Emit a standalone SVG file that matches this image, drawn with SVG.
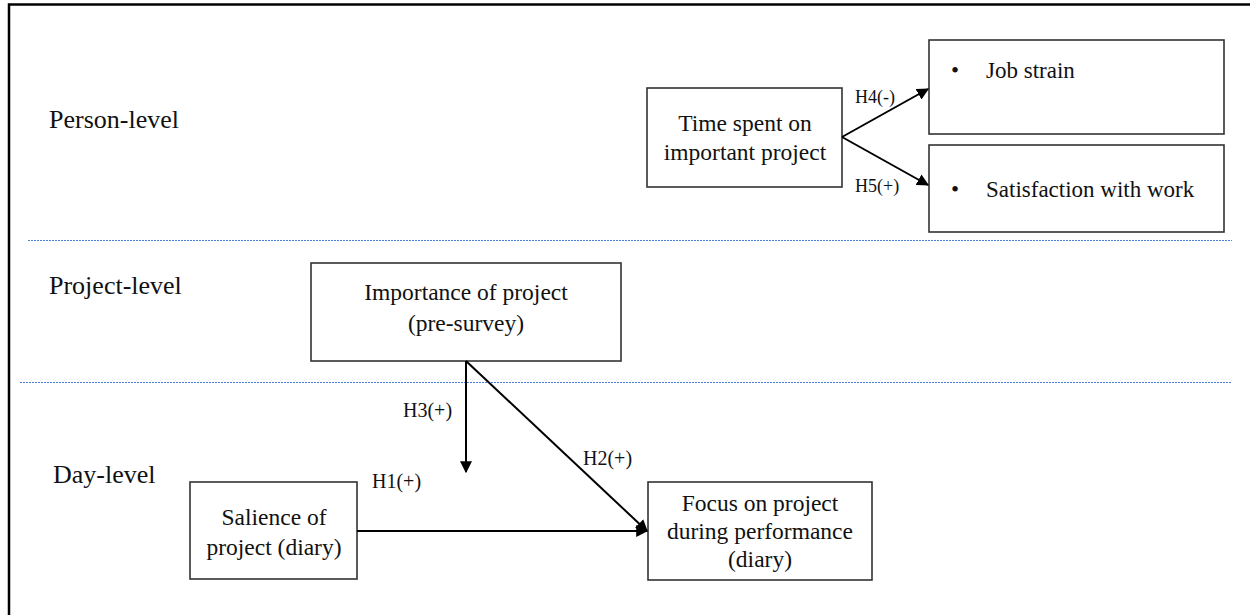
<svg xmlns="http://www.w3.org/2000/svg" width="1257" height="615" viewBox="0 0 1257 615">
<style>
text{font-family:"Liberation Serif","Times New Roman",serif;fill:#111}
.lvl{font-size:26px}
.bx{font-size:23.5px;text-anchor:middle}
.li{font-size:23px}
.hl{font-size:20px}
.hs{font-size:18px}
.box{fill:#fff;stroke:#333;stroke-width:1.6}
.dot{stroke:#4a7fd6;stroke-width:1;stroke-dasharray:2 1}
.con{stroke:#000;stroke-width:2;fill:none}
</style>
<defs>
<marker id="ah" viewBox="0 0 10 10" refX="9" refY="5" markerWidth="6" markerHeight="6" markerUnits="strokeWidth" orient="auto">
<path d="M0,0 L10,5 L0,10 z" fill="#000"/>
</marker>
</defs>
<rect width="1257" height="615" fill="#fff"/>
<g id="frame">
<path d="M9,615 V4.5 H1250" fill="none" stroke="#000" stroke-width="2.5"/>
</g>
<g id="separators">
<line class="dot" x1="28" y1="240.5" x2="1232" y2="240.5"/>
<line class="dot" x1="20" y1="382.5" x2="1232" y2="382.5"/>
</g>
<g id="levels">
<text class="lvl" x="49" y="128">Person-level</text>
<text class="lvl" x="49" y="294">Project-level</text>
<text class="lvl" x="53" y="483">Day-level</text>
</g>
<g id="time">
<rect class="box" x="647" y="88" width="195" height="99"/>
<text class="bx" x="745" y="131">Time spent on</text>
<text class="bx" x="745" y="160">important project</text>
</g>
<g id="jobstrain">
<rect class="box" x="929" y="40" width="295" height="94"/>
<text class="li" x="951" y="78">•</text>
<text class="li" x="986" y="78">Job strain</text>
</g>
<g id="satisfaction">
<rect class="box" x="929" y="145" width="295" height="87"/>
<text class="li" x="951" y="197">•</text>
<text class="li" x="986" y="197">Satisfaction with work</text>
</g>
<g id="importance">
<rect class="box" x="311" y="263" width="310" height="98"/>
<text class="bx" x="466" y="300">Importance of project</text>
<text class="bx" x="466" y="331">(pre-survey)</text>
</g>
<g id="salience">
<rect class="box" x="190" y="482" width="167" height="97"/>
<text class="bx" x="274" y="525">Salience of</text>
<text class="bx" x="274" y="555">project (diary)</text>
</g>
<g id="focus">
<rect class="box" x="648" y="482" width="224" height="98"/>
<text class="bx" x="760" y="511">Focus on project</text>
<text class="bx" x="760" y="539">during performance</text>
<text class="bx" x="760" y="567">(diary)</text>
</g>
<g id="connectors">
<line class="con" x1="842" y1="137" x2="928" y2="89" marker-end="url(#ah)"/>
<line class="con" x1="842" y1="137" x2="928" y2="185" marker-end="url(#ah)"/>
<line class="con" x1="466" y1="361" x2="466" y2="472" marker-end="url(#ah)"/>
<line class="con" x1="466" y1="361" x2="647" y2="531" marker-end="url(#ah)"/>
<line class="con" x1="357" y1="531" x2="647" y2="531" marker-end="url(#ah)"/>
<text class="hs" x="855" y="103">H4(-)</text>
<text class="hs" x="855" y="192">H5(+)</text>
<text class="hl" x="403" y="417">H3(+)</text>
<text class="hl" x="583" y="465">H2(+)</text>
<text class="hl" x="372" y="488">H1(+)</text>
</g>
</svg>
